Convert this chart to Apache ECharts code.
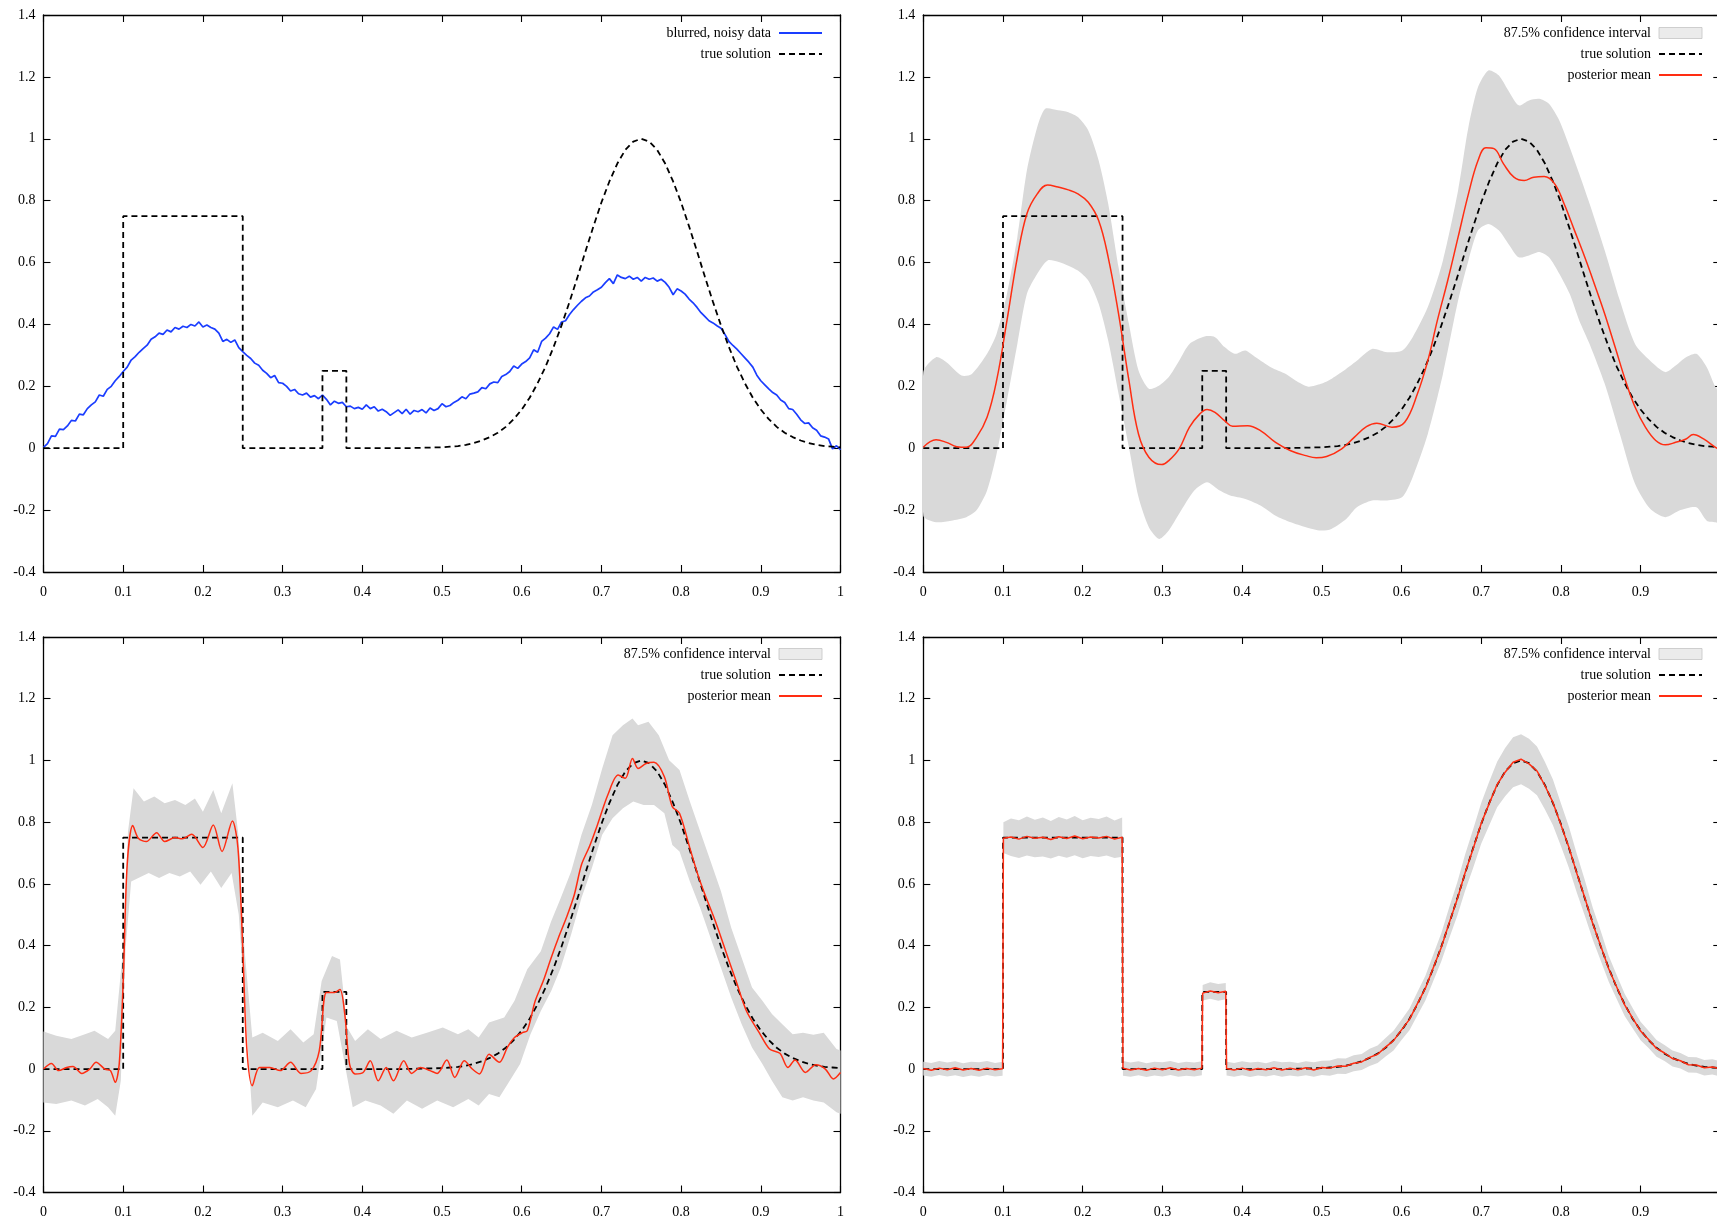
<!DOCTYPE html>
<html>
<head>
<meta charset="utf-8">
<script src="https://cdn.jsdelivr.net/npm/echarts@6/dist/echarts.min.js"></script>
<style>
  html, body { margin: 0; padding: 0; background: #fff; overflow: hidden; }
  #chart { width: 1730px; height: 1220px; }
</style>
</head>
<body>
<div id="chart"></div>
<script>
// ---- data -------------------------------------------------------------

// exact signal: two boxes and a smooth bump
const trueSolution = [
  [0,0],[0.1,0],[0.1,0.75],[0.25,0.75],[0.25,0],[0.35,0],[0.35,0.25],[0.38,0.25],[0.38,0],[0.45,0],
  [0.50,0.003],[0.51,0.005],[0.52,0.007],[0.53,0.011],[0.54,0.017],[0.55,0.025],[0.56,0.036],[0.57,0.050],
  [0.58,0.069],[0.59,0.094],[0.60,0.125],[0.61,0.163],[0.62,0.210],[0.63,0.264],[0.64,0.327],[0.65,0.397],
  [0.66,0.473],[0.67,0.553],[0.68,0.636],[0.69,0.717],[0.70,0.794],[0.71,0.862],[0.72,0.920],[0.73,0.964],
  [0.74,0.991],[0.75,1.000],[0.76,0.991],[0.77,0.964],[0.78,0.920],[0.79,0.862],[0.80,0.794],[0.81,0.717],
  [0.82,0.636],[0.83,0.553],[0.84,0.473],[0.85,0.397],[0.86,0.327],[0.87,0.264],[0.88,0.210],[0.89,0.163],
  [0.90,0.125],[0.91,0.094],[0.92,0.069],[0.93,0.050],[0.94,0.036],[0.95,0.025],[0.96,0.017],[0.97,0.011],
  [0.98,0.007],[0.99,0.005],[1.00,0.003]
];

// measured signal (blurred and noisy)
const blurredData = [
  [0.000,0.003],[0.005,0.015],[0.010,0.040],[0.015,0.038],[0.020,0.062],[0.025,0.060],[0.030,0.072],[0.035,0.090],
  [0.040,0.088],[0.045,0.110],[0.050,0.108],[0.055,0.128],[0.060,0.140],[0.065,0.150],[0.070,0.172],[0.075,0.168],
  [0.080,0.190],[0.085,0.200],[0.090,0.218],[0.095,0.232],[0.100,0.248],[0.105,0.262],[0.110,0.285],[0.115,0.296],
  [0.120,0.310],[0.125,0.322],[0.130,0.333],[0.135,0.352],[0.140,0.360],[0.145,0.372],[0.150,0.368],[0.155,0.382],
  [0.160,0.376],[0.165,0.390],[0.170,0.385],[0.175,0.394],[0.180,0.390],[0.185,0.400],[0.190,0.395],[0.195,0.408],
  [0.200,0.392],[0.205,0.398],[0.210,0.390],[0.215,0.385],[0.220,0.372],[0.225,0.345],[0.230,0.352],[0.235,0.342],
  [0.240,0.350],[0.245,0.325],[0.250,0.312],[0.255,0.300],[0.260,0.290],[0.265,0.275],[0.270,0.268],[0.275,0.252],
  [0.280,0.242],[0.285,0.228],[0.290,0.235],[0.295,0.212],[0.300,0.210],[0.305,0.200],[0.310,0.185],[0.315,0.190],
  [0.320,0.176],[0.325,0.172],[0.330,0.178],[0.335,0.165],[0.340,0.170],[0.345,0.160],[0.350,0.172],[0.355,0.158],
  [0.360,0.140],[0.365,0.152],[0.370,0.145],[0.375,0.148],[0.380,0.134],[0.385,0.136],[0.390,0.128],[0.395,0.132],
  [0.400,0.126],[0.405,0.140],[0.410,0.128],[0.415,0.134],[0.420,0.120],[0.425,0.126],[0.430,0.118],[0.435,0.106],
  [0.440,0.115],[0.445,0.124],[0.450,0.112],[0.455,0.126],[0.460,0.110],[0.465,0.122],[0.470,0.118],[0.475,0.125],
  [0.480,0.114],[0.485,0.130],[0.490,0.122],[0.495,0.128],[0.500,0.144],[0.505,0.134],[0.510,0.138],[0.515,0.148],
  [0.520,0.155],[0.525,0.166],[0.530,0.160],[0.535,0.175],[0.540,0.178],[0.545,0.182],[0.550,0.196],[0.555,0.192],
  [0.560,0.208],[0.565,0.214],[0.570,0.212],[0.575,0.232],[0.580,0.238],[0.585,0.248],[0.590,0.266],[0.595,0.258],
  [0.600,0.272],[0.605,0.280],[0.610,0.292],[0.615,0.318],[0.620,0.310],[0.625,0.345],[0.630,0.356],[0.635,0.370],
  [0.640,0.392],[0.645,0.384],[0.650,0.408],[0.655,0.412],[0.660,0.432],[0.665,0.448],[0.670,0.462],[0.675,0.475],
  [0.680,0.486],[0.685,0.492],[0.690,0.505],[0.695,0.512],[0.700,0.520],[0.705,0.535],[0.710,0.548],[0.715,0.532],
  [0.720,0.560],[0.725,0.552],[0.730,0.548],[0.735,0.556],[0.740,0.546],[0.745,0.552],[0.750,0.540],[0.755,0.552],
  [0.760,0.546],[0.765,0.550],[0.770,0.540],[0.775,0.546],[0.780,0.536],[0.785,0.520],[0.790,0.496],[0.795,0.515],
  [0.800,0.508],[0.805,0.498],[0.810,0.482],[0.815,0.470],[0.820,0.455],[0.825,0.438],[0.830,0.425],[0.835,0.412],
  [0.840,0.405],[0.845,0.396],[0.850,0.388],[0.855,0.368],[0.860,0.345],[0.865,0.332],[0.870,0.320],[0.875,0.306],
  [0.880,0.292],[0.885,0.278],[0.890,0.262],[0.895,0.236],[0.900,0.218],[0.905,0.205],[0.910,0.192],[0.915,0.180],
  [0.920,0.172],[0.925,0.156],[0.930,0.148],[0.935,0.128],[0.940,0.125],[0.945,0.110],[0.950,0.092],[0.955,0.080],
  [0.960,0.082],[0.965,0.066],[0.970,0.058],[0.975,0.040],[0.980,0.036],[0.985,0.030],[0.990,-0.002],[0.995,0.008],
  [1.000,-0.005]
];

// reconstruction 1 (top right): posterior mean and 87.5% band
const meanA = [
  [0,0.003],[0.016,0.027],[0.029,0.019],[0.042,0.005],[0.054,0.003],[0.067,0.036],[0.08,0.1],[0.092,0.219],
  [0.105,0.413],[0.118,0.617],[0.13,0.758],[0.143,0.822],[0.156,0.851],[0.169,0.844],[0.182,0.835],[0.194,0.822],
  [0.207,0.795],[0.22,0.736],[0.232,0.617],[0.245,0.434],[0.258,0.219],[0.27,0.046],[0.283,-0.029],[0.299,-0.053],
  [0.308,-0.04],[0.321,-0.002],[0.334,0.068],[0.347,0.111],[0.356,0.125],[0.366,0.116],[0.378,0.089],[0.388,0.071],
  [0.407,0.073],[0.423,0.057],[0.442,0.019],[0.461,-0.008],[0.48,-0.024],[0.493,-0.031],[0.506,-0.027],[0.525,-0.002],
  [0.541,0.036],[0.556,0.07],[0.569,0.081],[0.588,0.068],[0.604,0.084],[0.62,0.176],[0.633,0.283],[0.645,0.413],
  [0.658,0.542],[0.671,0.682],[0.684,0.822],[0.696,0.93],[0.706,0.971],[0.716,0.968],[0.728,0.919],[0.741,0.876],
  [0.754,0.865],[0.766,0.876],[0.779,0.878],[0.792,0.855],[0.804,0.79],[0.817,0.704],[0.83,0.617],[0.842,0.531],
  [0.855,0.434],[0.868,0.327],[0.881,0.219],[0.893,0.133],[0.906,0.068],[0.919,0.025],[0.931,0.011],[0.944,0.019],
  [0.957,0.03],[0.966,0.044],[0.979,0.03],[0.994,0.003],[1,-0.005]
];
const upperA = [
  [0,0.246],[0.016,0.294],[0.029,0.278],[0.048,0.235],[0.061,0.240],[0.08,0.305],[0.092,0.37],[0.105,0.499],
  [0.118,0.682],[0.13,0.898],[0.143,1.038],[0.153,1.097],[0.169,1.092],[0.182,1.086],[0.194,1.07],[0.207,1.027],
  [0.22,0.93],[0.232,0.79],[0.245,0.585],[0.258,0.402],[0.27,0.251],[0.283,0.192],[0.296,0.203],[0.308,0.23],
  [0.321,0.283],[0.334,0.337],[0.353,0.361],[0.366,0.359],[0.378,0.327],[0.391,0.305],[0.404,0.316],[0.417,0.294],
  [0.436,0.262],[0.455,0.24],[0.467,0.219],[0.483,0.199],[0.499,0.208],[0.512,0.224],[0.525,0.246],[0.544,0.283],
  [0.563,0.321],[0.582,0.31],[0.601,0.316],[0.614,0.359],[0.633,0.456],[0.652,0.607],[0.671,0.833],[0.684,1.038],
  [0.696,1.167],[0.709,1.221],[0.722,1.205],[0.734,1.156],[0.747,1.108],[0.76,1.124],[0.773,1.129],[0.785,1.113],
  [0.798,1.059],[0.811,0.973],[0.823,0.887],[0.836,0.79],[0.855,0.639],[0.874,0.477],[0.893,0.337],[0.912,0.283],
  [0.931,0.246],[0.944,0.267],[0.957,0.294],[0.97,0.305],[0.983,0.262],[0.994,0.197],[1,0.18]
];
const lowerA = [
  [0,-0.218],[0.016,-0.239],[0.035,-0.234],[0.054,-0.223],[0.067,-0.2],[0.08,-0.137],[0.092,-0.018],[0.105,0.154],
  [0.118,0.337],[0.13,0.499],[0.143,0.564],[0.156,0.607],[0.169,0.603],[0.182,0.59],[0.194,0.574],[0.207,0.542],
  [0.22,0.467],[0.232,0.348],[0.245,0.176],[0.258,0.003],[0.27,-0.158],[0.283,-0.255],[0.296,-0.293],[0.308,-0.266],
  [0.321,-0.212],[0.34,-0.137],[0.356,-0.11],[0.372,-0.137],[0.385,-0.153],[0.404,-0.164],[0.423,-0.185],[0.442,-0.218],
  [0.461,-0.239],[0.48,-0.255],[0.499,-0.266],[0.512,-0.261],[0.531,-0.228],[0.544,-0.191],[0.563,-0.169],[0.582,-0.169],
  [0.601,-0.158],[0.614,-0.094],[0.633,0.046],[0.652,0.24],[0.671,0.477],[0.684,0.607],[0.696,0.704],[0.709,0.725],
  [0.722,0.704],[0.734,0.661],[0.747,0.617],[0.76,0.623],[0.773,0.634],[0.785,0.617],[0.798,0.564],[0.811,0.499],
  [0.823,0.413],[0.836,0.337],[0.855,0.208],[0.874,0.046],[0.893,-0.115],[0.912,-0.196],[0.931,-0.223],[0.95,-0.2],
  [0.97,-0.191],[0.983,-0.234],[0.994,-0.239],[1,-0.24]
];

// reconstruction 2 (bottom left)
const meanB = [
  [0,0],[0.01,0.018],[0.019,-0.005],[0.029,0.005],[0.037,0.008],[0.048,-0.014],[0.058,0],[0.066,0.022],
  [0.077,0],[0.084,-0.005],[0.09,-0.043],[0.095,0.016],[0.1,0.285],[0.105,0.662],[0.112,0.789],[0.119,0.748],
  [0.129,0.737],[0.142,0.766],[0.152,0.737],[0.165,0.75],[0.174,0.746],[0.186,0.761],[0.2,0.718],[0.213,0.791],
  [0.224,0.705],[0.237,0.804],[0.244,0.716],[0.25,0.393],[0.255,0.07],[0.262,-0.054],[0.271,0.005],[0.284,0.005],
  [0.297,-0.005],[0.31,0.022],[0.323,-0.014],[0.336,-0.005],[0.346,0.059],[0.355,0.248],[0.365,0.248],[0.372,0.258],
  [0.378,0.178],[0.384,0.016],[0.391,-0.016],[0.401,-0.011],[0.41,0.027],[0.42,-0.038],[0.43,0.005],[0.439,-0.038],
  [0.452,0.027],[0.462,-0.014],[0.473,0.005],[0.485,-0.005],[0.494,-0.014],[0.506,0.029],[0.516,-0.027],[0.528,0.027],
  [0.538,0],[0.547,-0.016],[0.559,0.048],[0.572,0.022],[0.582,0.07],[0.591,0.102],[0.601,0.118],[0.607,0.124],
  [0.617,0.221],[0.627,0.285],[0.637,0.361],[0.646,0.425],[0.656,0.49],[0.666,0.565],[0.675,0.662],[0.685,0.721],
  [0.695,0.791],[0.708,0.888],[0.721,0.953],[0.73,0.942],[0.739,1.006],[0.746,0.974],[0.756,0.99],[0.766,0.994],
  [0.779,0.947],[0.789,0.85],[0.798,0.829],[0.811,0.716],[0.821,0.63],[0.83,0.565],[0.843,0.479],[0.856,0.382],
  [0.869,0.285],[0.882,0.188],[0.898,0.118],[0.911,0.065],[0.924,0.051],[0.934,0.005],[0.943,0.029],[0.956,-0.011],
  [0.969,0.014],[0.981,0],[0.991,-0.032],[1,-0.011]
];
const upperB = [
  [0,0.122],[0.016,0.108],[0.035,0.097],[0.052,0.113],[0.064,0.124],[0.081,0.097],[0.09,0.124],[0.1,0.393],
  [0.106,0.77],[0.113,0.91],[0.126,0.867],[0.139,0.883],[0.152,0.861],[0.165,0.872],[0.178,0.856],[0.19,0.877],
  [0.2,0.834],[0.213,0.904],[0.223,0.829],[0.237,0.926],[0.245,0.748],[0.252,0.393],[0.262,0.102],[0.275,0.118],
  [0.294,0.091],[0.31,0.129],[0.326,0.086],[0.339,0.113],[0.349,0.285],[0.362,0.366],[0.372,0.355],[0.381,0.135],
  [0.391,0.091],[0.407,0.129],[0.423,0.097],[0.443,0.124],[0.462,0.102],[0.481,0.118],[0.501,0.135],[0.52,0.113],
  [0.533,0.129],[0.546,0.102],[0.559,0.151],[0.578,0.167],[0.591,0.221],[0.607,0.323],[0.624,0.382],[0.637,0.479],
  [0.649,0.554],[0.662,0.64],[0.675,0.759],[0.688,0.856],[0.701,0.974],[0.714,1.082],[0.727,1.114],[0.739,1.136],
  [0.746,1.114],[0.759,1.125],[0.772,1.082],[0.785,1.001],[0.798,0.969],[0.811,0.867],[0.824,0.77],[0.837,0.673],
  [0.85,0.576],[0.863,0.457],[0.876,0.361],[0.889,0.264],[0.902,0.221],[0.914,0.178],[0.927,0.145],[0.94,0.113],
  [0.953,0.118],[0.966,0.111],[0.979,0.118],[0.995,0.065],[1,0.06]
];
const lowerB = [
  [0,-0.108],[0.016,-0.113],[0.035,-0.102],[0.052,-0.118],[0.068,-0.097],[0.081,-0.124],[0.09,-0.151],[0.097,-0.038],
  [0.103,0.393],[0.11,0.608],[0.119,0.619],[0.132,0.635],[0.145,0.619],[0.158,0.635],[0.171,0.624],[0.184,0.64],
  [0.197,0.597],[0.21,0.64],[0.223,0.587],[0.236,0.635],[0.245,0.5],[0.255,0.124],[0.262,-0.151],[0.275,-0.108],
  [0.294,-0.124],[0.313,-0.102],[0.329,-0.124],[0.342,-0.065],[0.355,0.167],[0.368,0.156],[0.378,0.016],[0.388,-0.124],
  [0.404,-0.102],[0.423,-0.118],[0.439,-0.145],[0.456,-0.102],[0.475,-0.129],[0.494,-0.102],[0.514,-0.124],[0.533,-0.097],
  [0.546,-0.118],[0.559,-0.081],[0.572,-0.091],[0.585,-0.038],[0.598,0.016],[0.611,0.113],[0.624,0.188],[0.637,0.253],
  [0.649,0.328],[0.662,0.436],[0.675,0.554],[0.688,0.651],[0.701,0.759],[0.714,0.813],[0.727,0.845],[0.74,0.867],
  [0.753,0.856],[0.766,0.856],[0.779,0.829],[0.789,0.726],[0.798,0.705],[0.811,0.608],[0.824,0.522],[0.837,0.425],
  [0.85,0.328],[0.863,0.231],[0.876,0.145],[0.889,0.07],[0.902,0.016],[0.914,-0.038],[0.927,-0.091],[0.94,-0.102],
  [0.953,-0.091],[0.966,-0.102],[0.979,-0.108],[0.995,-0.14],[1,-0.145]
];

// reconstruction 3 (bottom right)
const meanC = [
  [0.00,0.002],[0.01,-0.004],[0.02,0.003],[0.03,-0.002],[0.04,0.004],[0.05,-0.003],[0.06,0.002],[0.07,-0.004],
  [0.08,0.003],[0.09,-0.002],[0.0995,0.001],[0.1005,0.748],[0.11,0.752],[0.12,0.745],[0.13,0.754],[0.14,0.748],
  [0.15,0.751],[0.16,0.744],[0.17,0.753],[0.18,0.747],[0.19,0.755],[0.20,0.746],[0.21,0.752],[0.22,0.749],
  [0.23,0.754],[0.24,0.745],[0.2495,0.751],[0.2505,0.003],[0.26,-0.003],[0.27,0.002],[0.28,-0.004],[0.29,0.003],
  [0.30,-0.002],[0.31,0.004],[0.32,-0.003],[0.33,0.002],[0.34,-0.002],[0.3495,0.003],[0.3505,0.246],[0.36,0.253],
  [0.37,0.247],[0.3795,0.252],[0.3805,0.002],[0.39,-0.003],[0.40,0.003],[0.41,-0.004],[0.42,0.002],[0.43,-0.002],
  [0.44,0.004],[0.45,-0.003],[0.46,0.003],[0.47,-0.002],[0.48,0.004],[0.49,-0.003],[0.50,0.005],[0.51,0.003],
  [0.52,0.010],[0.53,0.009],[0.54,0.019],[0.55,0.023],[0.56,0.038],[0.57,0.048],[0.58,0.071],[0.59,0.092],
  [0.60,0.127],[0.61,0.161],[0.62,0.212],[0.63,0.262],[0.64,0.329],[0.65,0.395],[0.66,0.475],[0.67,0.551],
  [0.68,0.638],[0.69,0.715],[0.70,0.796],[0.71,0.860],[0.72,0.922],[0.73,0.962],[0.74,0.994],[0.75,1.004],
  [0.76,0.989],[0.77,0.966],[0.78,0.918],[0.79,0.864],[0.80,0.792],[0.81,0.719],[0.82,0.634],[0.83,0.555],
  [0.84,0.471],[0.85,0.399],[0.86,0.325],[0.87,0.266],[0.88,0.208],[0.89,0.165],[0.90,0.123],[0.91,0.096],
  [0.92,0.067],[0.93,0.052],[0.94,0.034],[0.95,0.027],[0.96,0.014],[0.97,0.013],[0.98,0.004],[0.99,0.007],
  [1.00,0.001]
];
const upperC = [
  [0.00,0.024],[0.01,0.020],[0.02,0.026],[0.03,0.021],[0.04,0.025],[0.05,0.019],[0.06,0.024],[0.07,0.022],
  [0.08,0.026],[0.09,0.020],[0.0995,0.024],[0.1005,0.800],[0.11,0.812],[0.12,0.806],[0.13,0.818],[0.14,0.808],
  [0.15,0.815],[0.16,0.804],[0.17,0.817],[0.18,0.809],[0.19,0.820],[0.20,0.806],[0.21,0.814],[0.22,0.810],
  [0.23,0.818],[0.24,0.805],[0.2495,0.815],[0.2505,0.026],[0.26,0.021],[0.27,0.025],[0.28,0.019],[0.29,0.024],
  [0.30,0.022],[0.31,0.026],[0.32,0.020],[0.33,0.024],[0.34,0.021],[0.3495,0.025],[0.3505,0.272],[0.36,0.281],
  [0.37,0.276],[0.3795,0.279],[0.3805,0.024],[0.39,0.020],[0.40,0.025],[0.41,0.021],[0.42,0.024],[0.43,0.019],
  [0.44,0.026],[0.45,0.022],[0.46,0.024],[0.47,0.020],[0.48,0.025],[0.49,0.022],[0.50,0.027],[0.51,0.028],
  [0.52,0.035],[0.53,0.034],[0.54,0.045],[0.55,0.049],[0.56,0.066],[0.57,0.076],[0.58,0.101],[0.59,0.124],
  [0.60,0.160],[0.61,0.196],[0.62,0.250],[0.63,0.302],[0.64,0.372],[0.65,0.441],[0.66,0.525],[0.67,0.605],
  [0.68,0.697],[0.69,0.778],[0.70,0.862],[0.71,0.931],[0.72,0.996],[0.73,1.040],[0.74,1.075],[0.75,1.085],
  [0.76,1.070],[0.77,1.045],[0.78,0.995],[0.79,0.938],[0.80,0.861],[0.81,0.786],[0.82,0.697],[0.83,0.613],
  [0.84,0.523],[0.85,0.447],[0.86,0.367],[0.87,0.305],[0.88,0.244],[0.89,0.198],[0.90,0.153],[0.91,0.124],
  [0.92,0.094],[0.93,0.078],[0.94,0.060],[0.95,0.052],[0.96,0.039],[0.97,0.038],[0.98,0.029],[0.99,0.032],
  [1.00,0.025]
];
const lowerC = [
  [0.00,-0.021],[0.01,-0.025],[0.02,-0.019],[0.03,-0.024],[0.04,-0.020],[0.05,-0.026],[0.06,-0.021],[0.07,-0.025],
  [0.08,-0.019],[0.09,-0.024],[0.0995,-0.022],[0.1005,0.700],[0.11,0.690],[0.12,0.684],[0.13,0.692],[0.14,0.686],
  [0.15,0.689],[0.16,0.682],[0.17,0.691],[0.18,0.685],[0.19,0.693],[0.20,0.683],[0.21,0.690],[0.22,0.687],
  [0.23,0.692],[0.24,0.684],[0.2495,0.688],[0.2505,-0.022],[0.26,-0.025],[0.27,-0.020],[0.28,-0.026],[0.29,-0.021],
  [0.30,-0.024],[0.31,-0.019],[0.32,-0.025],[0.33,-0.022],[0.34,-0.024],[0.3495,-0.020],[0.3505,0.222],[0.36,0.228],
  [0.37,0.221],[0.3795,0.226],[0.3805,-0.021],[0.39,-0.025],[0.40,-0.020],[0.41,-0.026],[0.42,-0.021],[0.43,-0.024],
  [0.44,-0.019],[0.45,-0.025],[0.46,-0.021],[0.47,-0.024],[0.48,-0.020],[0.49,-0.025],[0.50,-0.019],[0.51,-0.022],
  [0.52,-0.015],[0.53,-0.016],[0.54,-0.007],[0.55,-0.003],[0.56,0.010],[0.57,0.020],[0.58,0.041],[0.59,0.060],
  [0.60,0.094],[0.61,0.126],[0.62,0.174],[0.63,0.222],[0.64,0.286],[0.65,0.349],[0.66,0.425],[0.67,0.497],
  [0.68,0.579],[0.69,0.652],[0.70,0.730],[0.71,0.789],[0.72,0.848],[0.73,0.884],[0.74,0.913],[0.75,0.923],
  [0.76,0.908],[0.77,0.887],[0.78,0.841],[0.79,0.790],[0.80,0.723],[0.81,0.652],[0.82,0.571],[0.83,0.497],
  [0.84,0.419],[0.85,0.351],[0.86,0.283],[0.87,0.227],[0.88,0.172],[0.89,0.132],[0.90,0.093],[0.91,0.068],
  [0.92,0.040],[0.93,0.026],[0.94,0.008],[0.95,0.002],[0.96,-0.011],[0.97,-0.012],[0.98,-0.021],[0.99,-0.018],
  [1.00,-0.024]
];

// axis ticks and legend names
const xTicks = { min: 0, max: 1, step: 0.1 };
const yTicks = { min: -0.4, max: 1.4, step: 0.2 };
const NAME_DATA = 'blurred, noisy data';
const NAME_TRUE = 'true solution';
const NAME_CI = '87.5% confidence interval';
const NAME_MEAN = 'posterior mean';

// ---- styling ------------------------------------------------------------
const FONT = '"Liberation Serif", "Times New Roman", serif';
const BLUE = '#1a3dff';
const RED = '#ff2d12';
const BAND_FILL = '#d9d9d9';
const CONTAINER_W = 1730;

const panels = [
  { left: 43.5, top: 15, width: 797, height: 557, legendRight: CONTAINER_W - 823, legendTop: 26 },
  { left: 923.3, top: 15, width: 797, height: 557, legendRight: CONTAINER_W - 1703, legendTop: 26 },
  { left: 43.5, top: 637, width: 797, height: 555.5, legendRight: CONTAINER_W - 823, legendTop: 647 },
  { left: 923.3, top: 637, width: 797, height: 555.5, legendRight: CONTAINER_W - 1703, legendTop: 647 }
];

const grid = panels.map(p => ({ left: p.left, top: p.top, width: p.width, height: p.height, containLabel: false }));

const axisLineStyle = { color: '#000', width: 1.3 };
const tickStyle = { color: '#000', width: 1.1 };
const labelStyle = { color: '#000', fontFamily: FONT, fontSize: 14 };

// every panel gets a full box: labelled bottom/left axes, mirrored top/right ticks
const xAxis = [];
const yAxis = [];
panels.forEach((p, i) => {
  [ 'bottom', 'top' ].forEach(pos => {
    xAxis.push({
      gridIndex: i, type: 'value', position: pos,
      min: xTicks.min, max: xTicks.max, interval: xTicks.step,
      axisLine: { show: true, onZero: false, lineStyle: axisLineStyle },
      axisTick: { show: true, inside: true, length: 7, lineStyle: tickStyle },
      axisLabel: { show: pos === 'bottom', margin: 13, ...labelStyle },
      splitLine: { show: false }
    });
  });
  [ 'left', 'right' ].forEach(pos => {
    yAxis.push({
      gridIndex: i, type: 'value', position: pos,
      min: yTicks.min, max: yTicks.max, interval: yTicks.step,
      axisLine: { show: true, onZero: false, lineStyle: axisLineStyle },
      axisTick: { show: true, inside: true, length: 7, lineStyle: tickStyle },
      axisLabel: { show: pos === 'left', margin: 8, ...labelStyle },
      splitLine: { show: false }
    });
  });
});

function lineSeries(name, data, gi, style, smooth) {
  return {
    type: 'line', name, data,
    xAxisIndex: 2 * gi, yAxisIndex: 2 * gi,
    symbol: 'none', showSymbol: false, silent: true, animation: false,
    clip: true, smooth: smooth || false,
    itemStyle: { color: style.color },
    lineStyle: style
  };
}

// shaded band between an upper and a lower curve
function bandSeries(name, upper, lower, gi, smooth) {
  return {
    type: 'custom', name,
    xAxisIndex: 2 * gi, yAxisIndex: 2 * gi,
    coordinateSystem: 'cartesian2d',
    data: [[0, 0]],
    silent: true, animation: false, clip: true,
    itemStyle: { color: '#ebebeb' },
    renderItem(params, api) {
      const pts = upper.map(p => api.coord(p))
        .concat(lower.slice().reverse().map(p => api.coord(p)));
      return { type: 'polygon', shape: { points: pts, smooth: smooth || 0 }, style: { fill: BAND_FILL, stroke: null } };
    }
  };
}

const dashStyle = { color: '#000', width: 1.8, type: [6, 4] };
const blueStyle = { color: BLUE, width: 1.7 };
const redStyle = { color: RED, width: 1.5 };

const series = [
  lineSeries(NAME_DATA, blurredData, 0, blueStyle),
  lineSeries(NAME_TRUE, trueSolution, 0, dashStyle),

  bandSeries(NAME_CI, upperA, lowerA, 1, 0.25),
  lineSeries(NAME_TRUE, trueSolution, 1, dashStyle),
  lineSeries(NAME_MEAN, meanA, 1, redStyle, 0.4),

  bandSeries(NAME_CI, upperB, lowerB, 2),
  lineSeries(NAME_TRUE, trueSolution, 2, dashStyle),
  lineSeries(NAME_MEAN, meanB, 2, redStyle, 0.3),

  bandSeries(NAME_CI, upperC, lowerC, 3),
  lineSeries(NAME_TRUE, trueSolution, 3, dashStyle),
  lineSeries(NAME_MEAN, meanC, 3, redStyle)
];

const hideSymbol = { opacity: 0 };
const ciEntry = { name: NAME_CI, icon: 'rect', itemStyle: { color: '#ebebeb', borderColor: '#c4c4c4', borderWidth: 0.8, opacity: 1 } };
const legendBase = {
  orient: 'vertical', align: 'right', itemWidth: 43, itemHeight: 11, itemGap: 7,
  selectedMode: false, padding: 0,
  textStyle: { color: '#000', fontFamily: FONT, fontSize: 14, padding: [0, 3, 0, 0] }
};
const legend = [
  { ...legendBase, right: panels[0].legendRight, top: panels[0].legendTop,
    data: [ { name: NAME_DATA, itemStyle: hideSymbol }, { name: NAME_TRUE, itemStyle: hideSymbol } ] },
  { ...legendBase, right: panels[1].legendRight, top: panels[1].legendTop,
    data: [ ciEntry, { name: NAME_TRUE, itemStyle: hideSymbol }, { name: NAME_MEAN, itemStyle: hideSymbol } ] },
  { ...legendBase, right: panels[2].legendRight, top: panels[2].legendTop,
    data: [ ciEntry, { name: NAME_TRUE, itemStyle: hideSymbol }, { name: NAME_MEAN, itemStyle: hideSymbol } ] },
  { ...legendBase, right: panels[3].legendRight, top: panels[3].legendTop,
    data: [ ciEntry, { name: NAME_TRUE, itemStyle: hideSymbol }, { name: NAME_MEAN, itemStyle: hideSymbol } ] }
];

const chart = echarts.init(document.getElementById('chart'), null, { renderer: 'canvas' });
chart.setOption({
  backgroundColor: '#fff',
  animation: false,
  grid, xAxis, yAxis, legend, series
});
</script>
</body>
</html>
